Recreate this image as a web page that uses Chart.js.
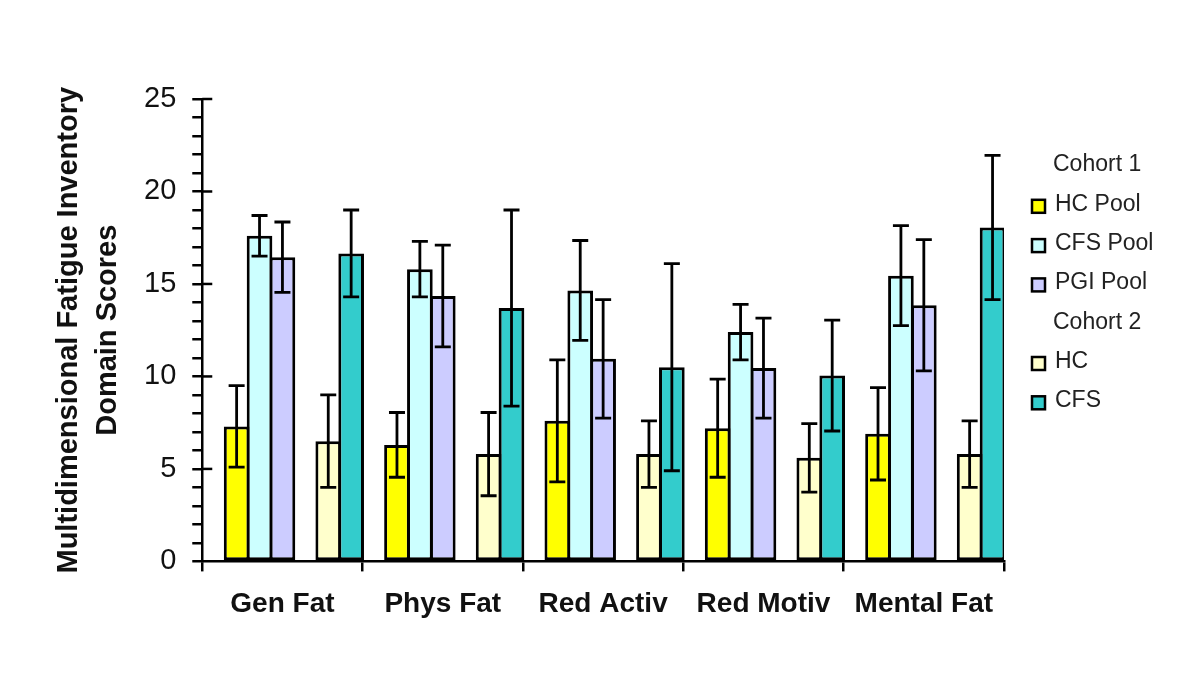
<!DOCTYPE html>
<html>
<head>
<meta charset="utf-8">
<script src="https://cdn.jsdelivr.net/npm/chart.js@4.4.1/dist/chart.umd.min.js"></script>
<style>
  html, body { margin: 0; padding: 0; background: #ffffff; }
  #wrap { width: 1200px; height: 673px; }
</style>
</head>
<body>
<div id="wrap"><canvas id="c" width="1200" height="673"></canvas></div>
<script>
// ---- data ----
const categories = ['Gen Fat', 'Phys Fat', 'Red Activ', 'Red Motiv', 'Mental Fat'];
const cohortLabels = ['Cohort 1', 'Cohort 2'];
const seriesLabels = ['HC Pool', 'CFS Pool', 'PGI Pool', 'HC', 'CFS'];
const seriesCohort = [0, 0, 0, 1, 1];

const hcPool      = [7.3, 6.3, 7.6, 7.2, 6.9];
const hcPoolErr   = [2.2, 1.75, 3.3, 2.65, 2.5];
const cfsPool     = [17.6, 15.8, 14.65, 12.4, 15.45];
const cfsPoolErr  = [1.1, 1.5, 2.7, 1.5, 2.7];
const pgiPool     = [16.45, 14.35, 10.95, 10.45, 13.85];
const pgiPoolErr  = [1.9, 2.75, 3.2, 2.7, 3.55];
const hc          = [6.5, 5.8, 5.8, 5.6, 5.8];
const hcErr       = [2.5, 2.25, 1.8, 1.85, 1.8];
const cfs         = [16.65, 13.7, 10.5, 10.05, 18.05];
const cfsErr      = [2.35, 5.3, 5.6, 3.0, 3.9];

const yMajorTicks = [0, 5, 10, 15, 20, 25];
const yAxisTitle = ['Multidimensional Fatigue Inventory', 'Domain Scores'];

// ---- styles ----
const seriesColors = ['#FFFF00', '#CCFFFF', '#CCCCFF', '#FFFFCC', '#33CCCC'];
const FONT = '"Liberation Sans", Arial, Helvetica, sans-serif';

const seriesValues = [hcPool, cfsPool, pgiPool, hc, cfs];
const seriesErrors = [hcPoolErr, cfsPoolErr, pgiPoolErr, hcErr, cfsErr];

function makeSeries(i) {
  return {
    label: seriesLabels[i],
    data: seriesValues[i],
    errors: seriesErrors[i],
    cohort: seriesCohort[i],
    backgroundColor: seriesColors[i],
    borderColor: '#000000',
    borderWidth: 3,
    borderSkipped: false,
    barPercentage: 1.12,
    categoryPercentage: 1.0
  };
}
function spacer() {
  return {
    label: '',
    spacer: true,
    data: categories.map(() => null),
    backgroundColor: 'rgba(0,0,0,0)',
    borderWidth: 0,
    barPercentage: 1.12,
    categoryPercentage: 1.0
  };
}

const datasets = [spacer(), makeSeries(0), makeSeries(1), makeSeries(2), spacer(), makeSeries(3), makeSeries(4)];

// error bars
const errorBarPlugin = {
  id: 'errorBars',
  afterDatasetsDraw(chart) {
    const ctx = chart.ctx;
    const yScale = chart.scales.y;
    ctx.save();
    ctx.strokeStyle = '#000000';
    ctx.lineWidth = 2.8;
    chart.data.datasets.forEach((ds, di) => {
      if (!ds.errors) return;
      const meta = chart.getDatasetMeta(di);
      meta.data.forEach((el, j) => {
        const v = ds.data[j], e = ds.errors[j];
        if (v == null || e == null) return;
        const x = el.x;
        const yT = yScale.getPixelForValue(v + e);
        const yB = yScale.getPixelForValue(v - e);
        const cap = 8;
        ctx.beginPath();
        ctx.moveTo(x, yT); ctx.lineTo(x, yB);
        ctx.moveTo(x - cap, yT); ctx.lineTo(x + cap, yT);
        ctx.moveTo(x - cap, yB); ctx.lineTo(x + cap, yB);
        ctx.stroke();
      });
    });
    ctx.restore();
  }
};

// inner half of major y ticks
const innerTickPlugin = {
  id: 'innerTicks',
  afterDraw(chart) {
    const ctx = chart.ctx;
    const yScale = chart.scales.y;
    const left = chart.chartArea.left;
    ctx.save();
    ctx.strokeStyle = '#000000';
    ctx.lineWidth = 2.5;
    yMajorTicks.forEach(v => {
      if (v === 0) return;
      const y = yScale.getPixelForValue(v);
      ctx.beginPath();
      ctx.moveTo(left, y); ctx.lineTo(left + 10, y);
      ctx.stroke();
    });
    ctx.restore();
  }
};

// legend with cohort headers
const cohortLegendPlugin = {
  id: 'cohortLegend',
  afterDraw(chart) {
    const ctx = chart.ctx;
    const boxX = 1032, box = 13, textX = 1055, headerX = 1053;
    let y = 165; const step = 39.3;
    ctx.save();
    ctx.font = '23px ' + FONT;
    ctx.textBaseline = 'middle';
    ctx.textAlign = 'left';
    cohortLabels.forEach((title, ci) => {
      ctx.fillStyle = '#222222';
      ctx.fillText(title, headerX, y);
      y += step;
      chart.data.datasets.forEach(ds => {
        if (ds.spacer || ds.cohort !== ci) return;
        ctx.fillStyle = ds.backgroundColor;
        ctx.fillRect(boxX, y - box / 2 + 2, box, box);
        ctx.strokeStyle = '#000000';
        ctx.lineWidth = 2.5;
        ctx.strokeRect(boxX, y - box / 2 + 2, box, box);
        ctx.fillStyle = '#222222';
        ctx.fillText(ds.label, textX, y);
        y += step;
      });
    });
    ctx.restore();
  }
};

new Chart(document.getElementById('c'), {
  type: 'bar',
  data: { labels: categories, datasets: datasets },
  options: {
    responsive: false,
    animation: false,
    events: [],
    layout: { padding: { left: 49.5, right: 196, top: 99, bottom: 36 } },
    plugins: {
      legend: { display: false },
      tooltip: { enabled: false }
    },
    scales: {
      x: {
        offset: true,
        grid: {
          offset: true,
          display: true,
          drawOnChartArea: false,
          drawTicks: true,
          tickLength: 10,
          color: '#000000',
          lineWidth: 2.5
        },
        border: { display: true, color: '#000000', width: 2.5 },
        ticks: {
          color: '#111111',
          padding: 16,
          maxRotation: 0,
          autoSkip: false,
          font: { family: FONT, size: 28, weight: 'bold' }
        }
      },
      y: {
        min: 0,
        max: 25,
        grid: {
          display: true,
          drawOnChartArea: false,
          drawTicks: true,
          tickLength: 10,
          color: '#000000',
          lineWidth: 2.5
        },
        border: { display: true, color: '#000000', width: 2.5 },
        ticks: {
          stepSize: 1,
          autoSkip: false,
          padding: 16,
          color: '#111111',
          font: { family: FONT, size: 29 },
          callback: (v) => yMajorTicks.includes(v) ? String(v) : ''
        },
        title: {
          display: true,
          text: yAxisTitle,
          color: '#111111',
          padding: { top: 0, bottom: 0.5 },
          font: { family: FONT, size: 29, weight: 'bold', lineHeight: 1.345 }
        }
      }
    }
  },
  plugins: [errorBarPlugin, innerTickPlugin, cohortLegendPlugin]
});
</script>
</body>
</html>
